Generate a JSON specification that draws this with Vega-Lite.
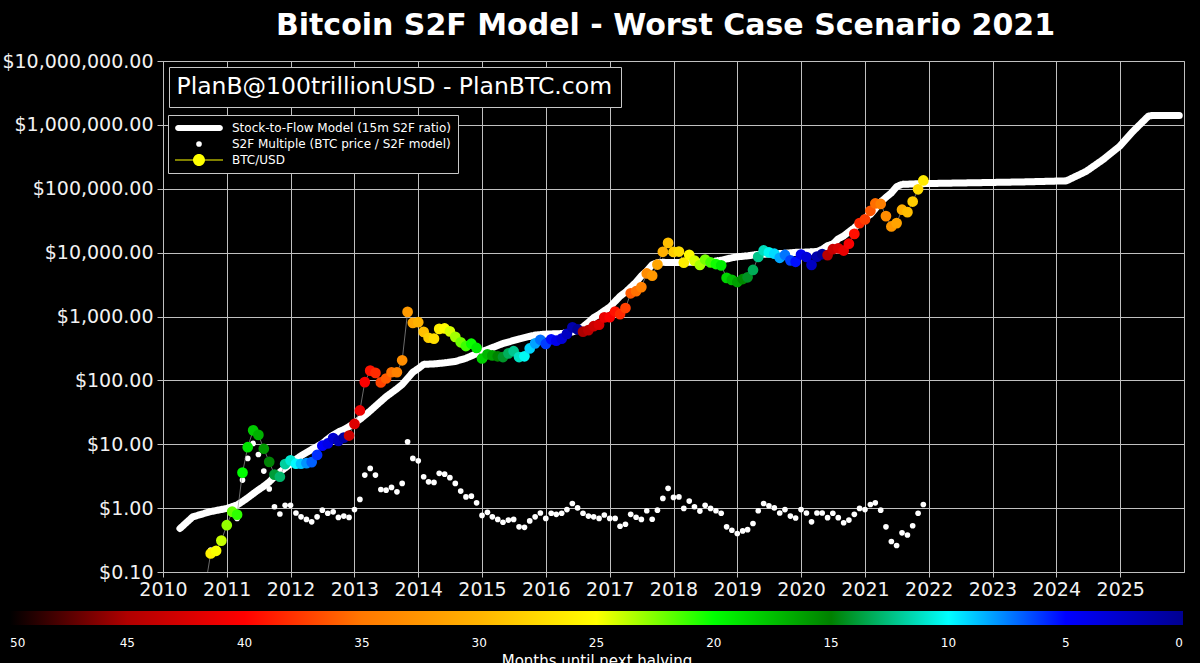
{
  "$schema": "https://vega.github.io/schema/vega-lite/v6.json",
  "width": 1021,
  "height": 511,
  "autosize": "none",
  "padding": {"left": 163, "top": 61, "right": 16, "bottom": 91},
  "background": "#000000",
  "title": {"text": "Bitcoin S2F Model - Worst Case Scenario 2021", "color": "#ffffff", "fontSize": 30, "font": "DejaVu Sans", "fontWeight": "bold", "anchor": "middle", "dx": -8, "baseline": "alphabetic", "offset": 25, "dy": 38},
  "config": {
    "view": {"stroke": "#c0c0c0", "strokeWidth": 1},
    "font": "DejaVu Sans",
    "axis": {"gridColor": "#c0c0c0", "gridOpacity": 1, "gridWidth": 1, "tickColor": "#c0c0c0", "labelColor": "#f2f2f2", "labelFont": "DejaVu Sans", "labelFontSize": 19, "domain": false, "title": null},
    "legend": {"labelFont": "DejaVu Sans", "titleFont": "DejaVu Sans", "gradientHorizontalMaxLength": 2000}
  },
  "datasets": {
    "model": [
      {"date": "2010-04-08", "value": 0.48}, {"date": "2010-06-20", "value": 0.73}, {"date": "2010-09-24", "value": 0.875},
      {"date": "2011-01-01", "value": 0.99}, {"date": "2011-03-01", "value": 1.12}, {"date": "2011-04-01", "value": 1.27},
      {"date": "2011-05-01", "value": 1.45}, {"date": "2011-06-01", "value": 1.68}, {"date": "2011-07-01", "value": 1.93},
      {"date": "2011-08-01", "value": 2.2}, {"date": "2011-09-01", "value": 2.57}, {"date": "2011-10-01", "value": 3.1},
      {"date": "2011-11-01", "value": 3.67}, {"date": "2011-12-01", "value": 4.25}, {"date": "2012-01-01", "value": 4.95},
      {"date": "2012-02-01", "value": 5.8}, {"date": "2012-03-01", "value": 6.6}, {"date": "2012-04-01", "value": 7.4},
      {"date": "2012-05-01", "value": 8.3}, {"date": "2012-06-01", "value": 9.2}, {"date": "2012-07-01", "value": 10.3},
      {"date": "2012-08-01", "value": 12.1}, {"date": "2012-09-01", "value": 14.0}, {"date": "2012-10-01", "value": 15.6},
      {"date": "2012-11-01", "value": 17.0}, {"date": "2012-12-01", "value": 18.9}, {"date": "2013-01-01", "value": 21.5},
      {"date": "2013-02-01", "value": 24.5}, {"date": "2013-03-01", "value": 28.3}, {"date": "2013-04-01", "value": 33.3},
      {"date": "2013-05-01", "value": 39.5}, {"date": "2013-06-01", "value": 47}, {"date": "2013-07-01", "value": 55.5},
      {"date": "2013-08-01", "value": 64}, {"date": "2013-09-01", "value": 74}, {"date": "2013-10-01", "value": 86},
      {"date": "2013-11-01", "value": 108}, {"date": "2013-12-01", "value": 134}, {"date": "2014-01-01", "value": 153},
      {"date": "2014-02-01", "value": 178}, {"date": "2014-04-01", "value": 181}, {"date": "2014-06-01", "value": 188},
      {"date": "2014-08-01", "value": 198}, {"date": "2014-10-01", "value": 222}, {"date": "2014-12-01", "value": 262},
      {"date": "2015-01-01", "value": 282}, {"date": "2015-05-01", "value": 378}, {"date": "2015-08-01", "value": 445},
      {"date": "2015-11-01", "value": 512}, {"date": "2016-01-01", "value": 530}, {"date": "2016-04-01", "value": 540},
      {"date": "2016-06-01", "value": 570}, {"date": "2016-07-01", "value": 615}, {"date": "2016-08-01", "value": 690},
      {"date": "2016-09-01", "value": 810}, {"date": "2016-10-01", "value": 960}, {"date": "2016-11-01", "value": 1075},
      {"date": "2016-12-01", "value": 1235}, {"date": "2017-01-01", "value": 1405}, {"date": "2017-02-01", "value": 1725},
      {"date": "2017-03-01", "value": 2077}, {"date": "2017-04-01", "value": 2407}, {"date": "2017-05-01", "value": 2875},
      {"date": "2017-06-01", "value": 3450}, {"date": "2017-07-01", "value": 4323}, {"date": "2017-08-01", "value": 5165},
      {"date": "2017-09-01", "value": 6475}, {"date": "2017-10-01", "value": 6955}, {"date": "2017-11-01", "value": 7050},
      {"date": "2017-12-01", "value": 7000}, {"date": "2018-03-01", "value": 7050}, {"date": "2018-08-01", "value": 7150},
      {"date": "2018-10-01", "value": 7600}, {"date": "2018-12-01", "value": 8300}, {"date": "2019-01-01", "value": 8600},
      {"date": "2019-03-01", "value": 8900}, {"date": "2019-05-01", "value": 9400}, {"date": "2019-08-01", "value": 9550},
      {"date": "2019-10-01", "value": 9750}, {"date": "2019-12-01", "value": 10100}, {"date": "2020-02-01", "value": 10200},
      {"date": "2020-04-01", "value": 10400}, {"date": "2020-05-01", "value": 11260}, {"date": "2020-06-01", "value": 12870},
      {"date": "2020-07-01", "value": 13640}, {"date": "2020-08-01", "value": 16450}, {"date": "2020-09-01", "value": 18280},
      {"date": "2020-10-01", "value": 21200}, {"date": "2020-11-01", "value": 24500}, {"date": "2020-12-01", "value": 29300},
      {"date": "2021-01-01", "value": 34900}, {"date": "2021-02-01", "value": 39600}, {"date": "2021-03-01", "value": 48700},
      {"date": "2021-04-01", "value": 62100}, {"date": "2021-05-01", "value": 73200}, {"date": "2021-06-01", "value": 86000},
      {"date": "2021-07-01", "value": 108000}, {"date": "2021-08-01", "value": 117000}, {"date": "2021-11-10", "value": 120000},
      {"date": "2022-06-24", "value": 123000}, {"date": "2023-07-01", "value": 128000}, {"date": "2024-02-28", "value": 133000},
      {"date": "2024-06-20", "value": 187000}, {"date": "2024-09-24", "value": 285000}, {"date": "2024-12-28", "value": 461000},
      {"date": "2025-03-15", "value": 790000}, {"date": "2025-05-12", "value": 1135000}, {"date": "2025-06-10", "value": 1360000},
      {"date": "2025-07-01", "value": 1400000}, {"date": "2025-12-05", "value": 1400000}
    ],
    "btc": [
      {"date": "2010-07-01", "btc": 0.07, "multiple": null, "months": 28.9},
      {"date": "2010-08-01", "btc": 0.065, "multiple": null, "months": 27.9},
      {"date": "2010-09-01", "btc": 0.062, "multiple": null, "months": 26.9},
      {"date": "2010-10-01", "btc": 0.195, "multiple": 0.22, "months": 25.9},
      {"date": "2010-11-01", "btc": 0.215, "multiple": 0.23, "months": 24.9},
      {"date": "2010-12-01", "btc": 0.31, "multiple": 0.32, "months": 23.9},
      {"date": "2011-01-01", "btc": 0.54, "multiple": 0.55, "months": 22.9},
      {"date": "2011-02-01", "btc": 0.88, "multiple": 0.82, "months": 21.9},
      {"date": "2011-03-01", "btc": 0.79, "multiple": 0.69, "months": 20.9},
      {"date": "2011-04-01", "btc": 3.6, "multiple": 2.75, "months": 19.9},
      {"date": "2011-05-01", "btc": 9.0, "multiple": 6.0, "months": 18.9},
      {"date": "2011-06-01", "btc": 16.5, "multiple": 10.3, "months": 17.9},
      {"date": "2011-07-01", "btc": 14.0, "multiple": 6.9, "months": 16.9},
      {"date": "2011-08-01", "btc": 8.5, "multiple": 3.8, "months": 15.9},
      {"date": "2011-09-01", "btc": 5.3, "multiple": 2.0, "months": 14.9},
      {"date": "2011-10-01", "btc": 3.35, "multiple": 1.05, "months": 13.9},
      {"date": "2011-11-01", "btc": 3.1, "multiple": 0.81, "months": 12.9},
      {"date": "2011-12-01", "btc": 4.9, "multiple": 1.11, "months": 11.9},
      {"date": "2012-01-01", "btc": 5.6, "multiple": 1.11, "months": 10.9},
      {"date": "2012-02-01", "btc": 4.95, "multiple": 0.84, "months": 9.9},
      {"date": "2012-03-01", "btc": 4.95, "multiple": 0.73, "months": 8.9},
      {"date": "2012-04-01", "btc": 5.05, "multiple": 0.665, "months": 7.9},
      {"date": "2012-05-01", "btc": 5.25, "multiple": 0.61, "months": 6.9},
      {"date": "2012-06-01", "btc": 6.8, "multiple": 0.73, "months": 5.9},
      {"date": "2012-07-01", "btc": 9.5, "multiple": 0.93, "months": 4.9},
      {"date": "2012-08-01", "btc": 10.3, "multiple": 0.83, "months": 3.9},
      {"date": "2012-09-01", "btc": 12.5, "multiple": 0.875, "months": 2.9},
      {"date": "2012-10-01", "btc": 11.3, "multiple": 0.715, "months": 1.9},
      {"date": "2012-11-01", "btc": 12.7, "multiple": 0.75, "months": 0.9},
      {"date": "2012-12-01", "btc": 13.7, "multiple": 0.715, "months": 43.2},
      {"date": "2013-01-01", "btc": 20.8, "multiple": 0.95, "months": 42.2},
      {"date": "2013-02-01", "btc": 33.8, "multiple": 1.37, "months": 41.2},
      {"date": "2013-03-01", "btc": 94, "multiple": 3.29, "months": 40.2},
      {"date": "2013-04-01", "btc": 142, "multiple": 4.18, "months": 39.2},
      {"date": "2013-05-01", "btc": 131, "multiple": 3.29, "months": 38.2},
      {"date": "2013-06-01", "btc": 93, "multiple": 1.96, "months": 37.2},
      {"date": "2013-07-01", "btc": 107, "multiple": 1.91, "months": 36.2},
      {"date": "2013-08-01", "btc": 134, "multiple": 2.11, "months": 35.2},
      {"date": "2013-09-01", "btc": 134, "multiple": 1.8, "months": 34.2},
      {"date": "2013-10-01", "btc": 206, "multiple": 2.44, "months": 33.2},
      {"date": "2013-11-01", "btc": 1180, "multiple": 10.9, "months": 32.2},
      {"date": "2013-12-01", "btc": 795, "multiple": 6.0, "months": 31.2},
      {"date": "2014-01-01", "btc": 815, "multiple": 5.5, "months": 30.2},
      {"date": "2014-02-01", "btc": 575, "multiple": 3.1, "months": 29.2},
      {"date": "2014-03-01", "btc": 465, "multiple": 2.58, "months": 28.2},
      {"date": "2014-04-01", "btc": 450, "multiple": 2.53, "months": 27.2},
      {"date": "2014-05-01", "btc": 640, "multiple": 3.5, "months": 26.2},
      {"date": "2014-06-01", "btc": 650, "multiple": 3.4, "months": 25.2},
      {"date": "2014-07-01", "btc": 585, "multiple": 3.0, "months": 24.2},
      {"date": "2014-08-01", "btc": 480, "multiple": 2.44, "months": 23.2},
      {"date": "2014-09-01", "btc": 395, "multiple": 1.85, "months": 22.2},
      {"date": "2014-10-01", "btc": 345, "multiple": 1.5, "months": 21.2},
      {"date": "2014-11-01", "btc": 375, "multiple": 1.54, "months": 20.2},
      {"date": "2014-12-01", "btc": 322, "multiple": 1.21, "months": 19.2},
      {"date": "2015-01-01", "btc": 220, "multiple": 0.77, "months": 18.2},
      {"date": "2015-02-01", "btc": 256, "multiple": 0.86, "months": 17.2},
      {"date": "2015-03-01", "btc": 246, "multiple": 0.73, "months": 16.2},
      {"date": "2015-04-01", "btc": 238, "multiple": 0.665, "months": 15.2},
      {"date": "2015-05-01", "btc": 232, "multiple": 0.6, "months": 14.2},
      {"date": "2015-06-01", "btc": 265, "multiple": 0.65, "months": 13.2},
      {"date": "2015-07-01", "btc": 286, "multiple": 0.665, "months": 12.2},
      {"date": "2015-08-01", "btc": 232, "multiple": 0.51, "months": 11.2},
      {"date": "2015-09-01", "btc": 238, "multiple": 0.5, "months": 10.2},
      {"date": "2015-10-01", "btc": 316, "multiple": 0.63, "months": 9.2},
      {"date": "2015-11-01", "btc": 380, "multiple": 0.73, "months": 8.2},
      {"date": "2015-12-01", "btc": 432, "multiple": 0.84, "months": 7.2},
      {"date": "2016-01-01", "btc": 372, "multiple": 0.69, "months": 6.2},
      {"date": "2016-02-01", "btc": 440, "multiple": 0.83, "months": 5.2},
      {"date": "2016-03-01", "btc": 418, "multiple": 0.8, "months": 4.2},
      {"date": "2016-04-01", "btc": 450, "multiple": 0.83, "months": 3.2},
      {"date": "2016-05-01", "btc": 535, "multiple": 0.95, "months": 2.2},
      {"date": "2016-06-01", "btc": 676, "multiple": 1.18, "months": 1.2},
      {"date": "2016-07-01", "btc": 628, "multiple": 1.01, "months": 0.2},
      {"date": "2016-08-01", "btc": 578, "multiple": 0.83, "months": 45.3},
      {"date": "2016-09-01", "btc": 612, "multiple": 0.75, "months": 44.3},
      {"date": "2016-10-01", "btc": 705, "multiple": 0.73, "months": 43.3},
      {"date": "2016-11-01", "btc": 745, "multiple": 0.69, "months": 42.3},
      {"date": "2016-12-01", "btc": 970, "multiple": 0.78, "months": 41.3},
      {"date": "2017-01-01", "btc": 975, "multiple": 0.69, "months": 40.3},
      {"date": "2017-02-01", "btc": 1195, "multiple": 0.69, "months": 39.3},
      {"date": "2017-03-01", "btc": 1085, "multiple": 0.52, "months": 38.3},
      {"date": "2017-04-01", "btc": 1355, "multiple": 0.56, "months": 37.3},
      {"date": "2017-05-01", "btc": 2310, "multiple": 0.8, "months": 36.3},
      {"date": "2017-06-01", "btc": 2490, "multiple": 0.72, "months": 35.3},
      {"date": "2017-07-01", "btc": 2885, "multiple": 0.665, "months": 34.3},
      {"date": "2017-08-01", "btc": 4720, "multiple": 0.91, "months": 33.3},
      {"date": "2017-09-01", "btc": 4360, "multiple": 0.67, "months": 32.3},
      {"date": "2017-10-01", "btc": 6500, "multiple": 0.93, "months": 31.3},
      {"date": "2017-11-01", "btc": 10300, "multiple": 1.42, "months": 30.3},
      {"date": "2017-12-01", "btc": 14200, "multiple": 2.04, "months": 29.3},
      {"date": "2018-01-01", "btc": 10250, "multiple": 1.47, "months": 28.3},
      {"date": "2018-02-01", "btc": 10400, "multiple": 1.5, "months": 27.3},
      {"date": "2018-03-01", "btc": 6980, "multiple": 0.99, "months": 26.3},
      {"date": "2018-04-01", "btc": 9250, "multiple": 1.29, "months": 25.3},
      {"date": "2018-05-01", "btc": 7500, "multiple": 1.05, "months": 24.3},
      {"date": "2018-06-01", "btc": 6400, "multiple": 0.9, "months": 23.3},
      {"date": "2018-07-01", "btc": 7790, "multiple": 1.11, "months": 22.3},
      {"date": "2018-08-01", "btc": 7040, "multiple": 0.99, "months": 21.3},
      {"date": "2018-09-01", "btc": 6630, "multiple": 0.91, "months": 20.3},
      {"date": "2018-10-01", "btc": 6320, "multiple": 0.83, "months": 19.3},
      {"date": "2018-11-01", "btc": 4020, "multiple": 0.51, "months": 18.3},
      {"date": "2018-12-01", "btc": 3750, "multiple": 0.45, "months": 17.3},
      {"date": "2019-01-01", "btc": 3460, "multiple": 0.4, "months": 16.3},
      {"date": "2019-02-01", "btc": 3860, "multiple": 0.44, "months": 15.3},
      {"date": "2019-03-01", "btc": 4110, "multiple": 0.46, "months": 14.3},
      {"date": "2019-04-01", "btc": 5350, "multiple": 0.575, "months": 13.3},
      {"date": "2019-05-01", "btc": 8570, "multiple": 0.91, "months": 12.3},
      {"date": "2019-06-01", "btc": 10820, "multiple": 1.18, "months": 11.3},
      {"date": "2019-07-01", "btc": 10090, "multiple": 1.09, "months": 10.3},
      {"date": "2019-08-01", "btc": 9630, "multiple": 1.01, "months": 9.3},
      {"date": "2019-09-01", "btc": 8290, "multiple": 0.84, "months": 8.3},
      {"date": "2019-10-01", "btc": 9200, "multiple": 0.95, "months": 7.3},
      {"date": "2019-11-01", "btc": 7570, "multiple": 0.75, "months": 6.3},
      {"date": "2019-12-01", "btc": 7190, "multiple": 0.7, "months": 5.3},
      {"date": "2020-01-01", "btc": 9350, "multiple": 0.95, "months": 4.3},
      {"date": "2020-02-01", "btc": 8540, "multiple": 0.84, "months": 3.3},
      {"date": "2020-03-01", "btc": 6440, "multiple": 0.61, "months": 2.3},
      {"date": "2020-04-01", "btc": 8660, "multiple": 0.84, "months": 1.3},
      {"date": "2020-05-01", "btc": 9460, "multiple": 0.84, "months": 0.3},
      {"date": "2020-06-01", "btc": 9140, "multiple": 0.71, "months": 44.4},
      {"date": "2020-07-01", "btc": 11320, "multiple": 0.83, "months": 43.4},
      {"date": "2020-08-01", "btc": 11680, "multiple": 0.71, "months": 42.4},
      {"date": "2020-09-01", "btc": 10780, "multiple": 0.59, "months": 41.4},
      {"date": "2020-10-01", "btc": 13780, "multiple": 0.65, "months": 40.4},
      {"date": "2020-11-01", "btc": 19630, "multiple": 0.8, "months": 39.4},
      {"date": "2020-12-01", "btc": 29000, "multiple": 0.99, "months": 38.4},
      {"date": "2021-01-01", "btc": 33110, "multiple": 0.95, "months": 37.4},
      {"date": "2021-02-01", "btc": 45140, "multiple": 1.14, "months": 36.4},
      {"date": "2021-03-01", "btc": 58920, "multiple": 1.21, "months": 35.4},
      {"date": "2021-04-01", "btc": 57750, "multiple": 0.93, "months": 34.4},
      {"date": "2021-05-01", "btc": 37330, "multiple": 0.51, "months": 33.4},
      {"date": "2021-06-01", "btc": 25700, "multiple": 0.3, "months": 32.4},
      {"date": "2021-07-01", "btc": 29000, "multiple": 0.26, "months": 31.4},
      {"date": "2021-08-01", "btc": 47000, "multiple": 0.41, "months": 30.4},
      {"date": "2021-09-01", "btc": 43000, "multiple": 0.38, "months": 29.4},
      {"date": "2021-10-01", "btc": 63000, "multiple": 0.53, "months": 28.4},
      {"date": "2021-11-01", "btc": 98000, "multiple": 0.83, "months": 27.4},
      {"date": "2021-12-01", "btc": 135000, "multiple": 1.14, "months": 26.4}
    ]
  },
  "layer": [
    {
      "data": {"name": "model"},
      "mark": {"type": "line", "color": "#ffffff", "strokeWidth": 7, "strokeCap": "round", "strokeJoin": "round", "clip": true},
      "encoding": {
        "x": {"field": "date", "type": "temporal",
          "scale": {"type": "utc", "domain": [{"year": 2010, "month": 1, "date": 1, "utc": true}, {"year": 2026, "month": 1, "date": 1, "utc": true}]},
          "axis": {"values": [{"year": 2010, "utc": true}, {"year": 2011, "utc": true}, {"year": 2012, "utc": true}, {"year": 2013, "utc": true}, {"year": 2014, "utc": true}, {"year": 2015, "utc": true}, {"year": 2016, "utc": true}, {"year": 2017, "utc": true}, {"year": 2018, "utc": true}, {"year": 2019, "utc": true}, {"year": 2020, "utc": true}, {"year": 2021, "utc": true}, {"year": 2022, "utc": true}, {"year": 2023, "utc": true}, {"year": 2024, "utc": true}, {"year": 2025, "utc": true}],
            "format": "%Y", "labelPadding": 3, "tickSize": 5, "grid": true, "labelFlush": false, "labelOverlap": false}},
        "y": {"field": "value", "type": "quantitative",
          "scale": {"type": "log", "domain": [0.1, 10000000], "nice": false},
          "axis": {"values": [0.1, 1, 10, 100, 1000, 10000, 100000, 1000000, 10000000], "format": "$,.2f", "tickSize": 6, "labelPadding": 4, "grid": true}},
        "strokeDash": {"datum": "PlanB@100trillionUSD - PlanBTC.com", "type": "nominal",
          "scale": {"domain": ["PlanB@100trillionUSD - PlanBTC.com"], "range": [[1, 0]]},
          "legend": {"orient": "none", "legendX": 6, "legendY": 6, "title": null, "labelFontSize": 23.5, "labelColor": "#ffffff", "labelLimit": 1000, "symbolOpacity": 0, "symbolSize": 1, "symbolStrokeWidth": 0, "labelOffset": -24, "padding": 8, "fillColor": "#000000", "strokeColor": "#c8c8c8"}}
      }
    },
    {
      "data": {"name": "btc"},
      "mark": {"type": "point", "filled": true, "opacity": 1, "strokeWidth": 0, "clip": true},
      "encoding": {
        "x": {"field": "date", "type": "temporal", "scale": {"type": "utc", "domain": [{"year": 2010, "month": 1, "date": 1, "utc": true}, {"year": 2026, "month": 1, "date": 1, "utc": true}]}},
        "y": {"field": "multiple", "type": "quantitative", "scale": {"type": "log", "domain": [0.1, 10000000], "nice": false}},
        "shape": {"datum": "S2F Multiple (BTC price / S2F model)", "type": "nominal",
          "scale": {"domain": ["Stock-to-Flow Model (15m S2F ratio)", "S2F Multiple (BTC price / S2F model)", "BTC/USD"],
            "range": ["M-0.87,-0.125H0.87A0.125,0.125 0 0,1 0.87,0.125H-0.87A0.125,0.125 0 0,1 -0.87,-0.125Z", "circle", "M-0.25,0A0.25,0.25 0 1,1 0.25,0A0.25,0.25 0 1,1 -0.25,0Z M-1,-0.02H1V0.02H-1Z"]},
          "legend": {"orient": "none", "legendX": 5, "legendY": 54, "title": null, "columns": 1, "clipHeight": 12, "labelColor": "#ffffff", "labelFontSize": 12, "labelLimit": 600, "labelOffset": 9, "rowPadding": 4, "padding": 7, "symbolOpacity": 1, "symbolStrokeWidth": 0, "fillColor": "#000000", "strokeColor": "#c8c8c8"}},
        "size": {"datum": "S2F Multiple (BTC price / S2F model)", "type": "nominal",
          "scale": {"type": "ordinal", "domain": ["Stock-to-Flow Model (15m S2F ratio)", "S2F Multiple (BTC price / S2F model)", "BTC/USD"], "range": [2304, 32, 2304]},
          "legend": {"orient": "none", "legendX": 5, "legendY": 54, "title": null, "columns": 1, "clipHeight": 12, "labelColor": "#ffffff", "labelFontSize": 12, "labelLimit": 600, "labelOffset": 9, "rowPadding": 4, "padding": 7, "symbolOpacity": 1, "symbolStrokeWidth": 0, "fillColor": "#000000", "strokeColor": "#c8c8c8"}},
        "fill": {"datum": "S2F Multiple (BTC price / S2F model)", "type": "nominal",
          "scale": {"domain": ["Stock-to-Flow Model (15m S2F ratio)", "S2F Multiple (BTC price / S2F model)", "BTC/USD"], "range": ["#ffffff", "#ffffff", "#ffff00"]},
          "legend": {"orient": "none", "legendX": 5, "legendY": 54, "title": null, "columns": 1, "clipHeight": 12, "labelColor": "#ffffff", "labelFontSize": 12, "labelLimit": 600, "labelOffset": 9, "rowPadding": 4, "padding": 7, "symbolOpacity": 1, "symbolStrokeWidth": 0, "fillColor": "#000000", "strokeColor": "#c8c8c8"}}
      }
    },
    {
      "data": {"name": "btc"},
      "mark": {"type": "line", "color": "#9a9a9a", "strokeWidth": 0.7, "clip": true},
      "encoding": {
        "x": {"field": "date", "type": "temporal", "scale": {"type": "utc", "domain": [{"year": 2010, "month": 1, "date": 1, "utc": true}, {"year": 2026, "month": 1, "date": 1, "utc": true}]}},
        "y": {"field": "btc", "type": "quantitative", "scale": {"type": "log", "domain": [0.1, 10000000], "nice": false}}
      }
    },
    {
      "data": {"name": "btc"},
      "mark": {"type": "circle", "size": 115, "opacity": 1, "clip": true},
      "encoding": {
        "x": {"field": "date", "type": "temporal", "scale": {"type": "utc", "domain": [{"year": 2010, "month": 1, "date": 1, "utc": true}, {"year": 2026, "month": 1, "date": 1, "utc": true}]}},
        "y": {"field": "btc", "type": "quantitative", "scale": {"type": "log", "domain": [0.1, 10000000], "nice": false}},
        "color": {"field": "months", "type": "quantitative",
          "scale": {"domain": [50, 48, 45, 40, 35, 30, 25, 20, 15, 10, 5, 0],
            "range": ["#000000", "#800000", "#b00000", "#ff0000", "#ff7800", "#ffb400", "#ffff00", "#00ff00", "#008000", "#00ffff", "#0000ff", "#000090"],
            "interpolate": "rgb"},
          "legend": {"orient": "none", "legendX": -153, "legendY": 550, "direction": "horizontal", "gradientLength": 1173, "gradientThickness": 14, "gradientStrokeWidth": 0,
            "title": "Months until next halving", "titleOrient": "bottom", "titleAnchor": "middle", "titleFontSize": 15, "titleFontWeight": "normal", "titleColor": "#ffffff", "titleLimit": 1000, "titlePadding": 5,
            "labelFontSize": 12, "labelColor": "#ffffff", "labelAlign": "center", "labelOffset": 13,
            "values": [50, 45, 40, 35, 30, 25, 20, 15, 10, 5, 0], "padding": 0, "strokeColor": "transparent", "fillColor": "transparent"}}
      }
    }
  ]
}
